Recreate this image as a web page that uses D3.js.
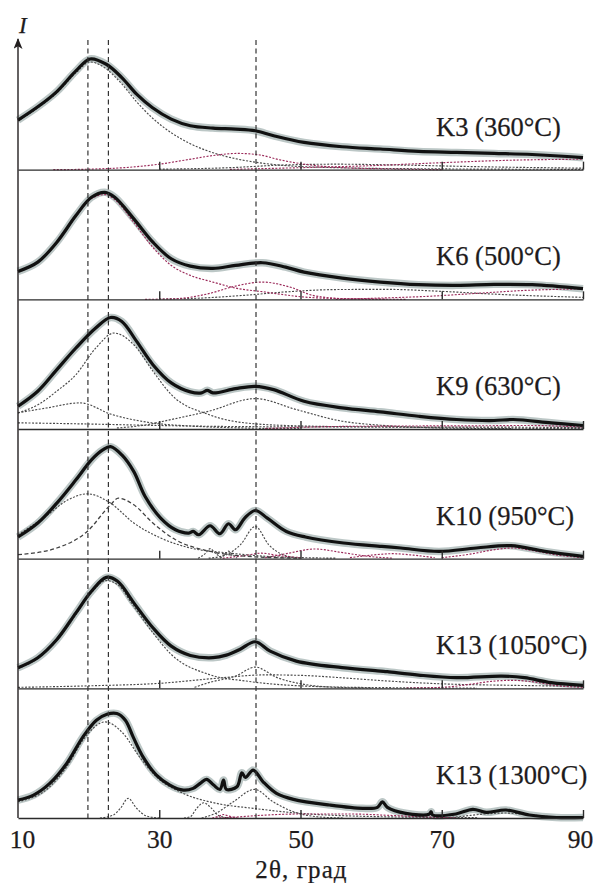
<!DOCTYPE html>
<html>
<head>
<meta charset="utf-8">
<script src="https://cdn.jsdelivr.net/npm/d3@7"></script>
<style>
  body { margin: 0; background: #fff; }
  svg { display: block; }
  text { font-family: "Liberation Serif", "Times New Roman", serif; fill: #1e1b1c; stroke: #1e1b1c; stroke-width: 0.25; }
</style>
</head>
<body>
<svg id="vis" width="596" height="883"></svg>
<script>
// ---- data: [2theta, intensity (a.u.)] ----
var panelNames = ["K3 (360°C)", "K6 (500°C)", "K9 (630°C)", "K10 (950°C)", "K13 (1050°C)", "K13 (1300°C)"];
var xTicks = [10, 30, 50, 70, 90];
var guideLines = [19.9, 22.8, 43.7];

var k3Fit = [[10,49.7],[12.8,63],[15.5,78.3],[18.2,99],[20.2,111],[22.5,105.7],[24.7,92.3],[26.8,75.7],[29,62.3],[31.7,50.7],[34.4,44],[37.6,41.7],[40.8,40.7],[43.6,39],[46.2,34],[50.5,27.3],[55.9,23],[61.3,20.7],[66.7,18.3],[72.1,17.3],[77.4,16.3],[82.8,15.2],[90,12]];
var k3Gray = [
  [[10,49],[12.8,62],[15.5,77],[18.2,97],[20.2,108],[22.5,101],[24.7,86],[26.8,68],[29,52],[31.7,37],[34.4,26],[37.6,17],[40.8,11],[43.6,7.5],[48,4],[55,2],[65,1],[90,0.3]],
  [[30,0.5],[40,2],[47,4.5],[55,5.5],[65,4.5],[75,3],[90,1.5]]
];
var k3Red = [
  [[15,0],[20,0.5],[25,2],[30,5.5],[34,10],[38,14.5],[41,16.3],[44,15],[47,10],[51,5],[56,2],[62,0.8],[70,0]],
  [[40,0.3],[50,2],[60,4],[70,7],[80,9.5],[90,10.5]]
];

var k6Fit = [[10,28],[12.8,37.3],[15.5,57.3],[18.2,84],[20.4,102.3],[22.3,107.3],[23.7,102.3],[26.4,80.7],[29.1,57.3],[31.7,40.7],[34.4,33.3],[37.6,31],[40.8,34],[44.6,36.7],[47.9,32.3],[50.5,27.3],[55.9,21.3],[61.3,17.3],[66.7,14.7],[72.1,14],[77.4,15],[82.8,14.7],[90,10.7]];
var k6Gray = [
  [[30,0.3],[35,1],[42,4],[48,7.5],[55,9.8],[62,10],[70,8],[78,5],[90,2]]
];
var k6Red = [
  [[10,28],[12.8,37],[15.5,57],[18.2,83],[20.4,101],[22.3,105],[23.7,100],[26.4,77],[29.1,52],[31.7,34],[34.4,24],[37.6,17.3],[40.8,11.3],[45,7.3],[50.5,2.3],[56,0.7],[65,0]],
  [[28,0],[32.5,0.7],[37,5.7],[40.8,13.3],[44.6,17.3],[48.5,12.3],[51.7,4],[56,0.7],[62,0]],
  [[55,0],[60,1],[68,3],[75,6],[82,9],[90,10.5]]
];

var k9Fit = [[10,22.8],[12.8,37.8],[15.5,59.5],[18.2,81.2],[21,101.2],[23.1,111.8],[24.7,107.8],[26.8,87.8],[29.1,64.5],[31.7,46.2],[34.4,37.2],[36,36.2],[36.8,38.8],[37.6,36.2],[40.8,40.5],[43.6,42.8],[46.2,39.5],[50.5,27.8],[55.9,21.2],[61.3,17.2],[66.7,12.8],[72.1,9.5],[77.4,8.5],[80.1,9.5],[85.5,6.2],[90,3.5]];
var k9Gray = [
  [[10,16.2],[13,25],[15.5,38],[18.2,54.5],[21,81],[23.6,96.2],[26.4,84.5],[29.1,58],[31.7,34.5],[37,14.5],[42.3,6],[50.5,3],[61.3,2],[75,1],[90,0.5]],
  [[10,16.2],[14,21],[18.8,26.2],[23.3,14.5],[29.1,6],[34.4,3],[42,1],[50,0.3]],
  [[24,1],[28,4],[31.7,9.5],[37,17.8],[43.6,30.5],[49.4,19.5],[55.9,7.8],[61.3,3.8],[70,1],[80,0.3]],
  [[10,6.2],[20,5],[30,3.5],[40,2.5],[55,2],[70,2],[90,1.5]]
];
var k9Red = [
  [[45,0.5],[55,2.5],[65,3],[75,3.2],[82,3.5],[90,2]]
];

var k10Fit = [[10,21.7],[12.8,35.7],[15.5,55.7],[18.2,79],[20.4,99],[22,109],[23.1,112.3],[24.7,104],[26.4,87.3],[28,62.3],[30.2,40.7],[32.3,29],[34.2,25.7],[34.8,27.3],[35.6,24],[37.2,33],[38.6,25],[39.8,35],[40.8,29],[42.1,40.7],[43.6,48.3],[45.3,40.7],[48,27.3],[50.7,21.7],[56.1,15.7],[61.5,12.3],[64.2,10.7],[69.6,7.3],[74.9,10.7],[79.8,13],[84.6,7.3],[90,2.3]];
var k10Gray = [
  [[10,24],[13.9,42.3],[17.1,59],[19.8,65],[23.1,55.7],[26.4,35.7],[30.2,20.7],[34.4,10.7],[39.8,5.7],[46,2],[55,0.5]],
  [[37,0.5],[39.5,4],[41.5,14],[43.6,32.3],[45.5,14],[47.5,4],[50,0.5]],
  [[35.5,0.5],[36.5,5],[37.2,10],[38,5],[39,0.5]],
  [[38.6,0.5],[39.3,4],[39.8,7.5],[40.4,4],[41,0.5]]
];
var k10Dash = [
  [[10,4],[15.5,10.7],[19.8,27.3],[23.1,54],[24.2,60.7],[26.4,54],[29.1,35.7],[32.3,19],[37.2,7.3],[42.5,2.3],[50,0.5]]
];
var k10Red = [
  [[39,0.5],[42,3],[44.5,5.5],[47,3],[50,1]],
  [[45,1],[48,5],[52,9.7],[56,6],[60,2],[63,0.5]],
  [[57,1],[60,3.5],[63,5],[66,3.5],[69,1]],
  [[70,1],[74,4.5],[77,8.5],[80,10.7],[83,8],[86,4],[90,1]]
];

var k13aFit = [[10,20.7],[12.8,30.7],[15.5,49],[18.2,75.7],[20.4,97.3],[22.5,111.3],[24.1,107.3],[26.4,85.7],[29.1,60.7],[31.7,42.3],[34.4,33],[37.6,30.7],[39.5,33.3],[41.4,39],[43.6,46.7],[45.7,37.3],[49.4,27.3],[55.9,20.7],[61.3,17.3],[62.3,16.7],[66.7,13.3],[72.1,10.7],[78.5,12.3],[81.7,10.7],[85.5,5.7],[90,3]];
var k13aGray = [
  [[10,20],[12.8,30],[15.5,48],[18.2,74],[20.4,96],[22.5,108],[24.1,104],[26.4,82],[29.1,55.7],[31.7,34],[37,14],[42.3,7.3],[50.5,2.3],[60,0.8],[75,0.3]],
  [[35,1],[37,5.7],[40.8,12.3],[43.6,21.3],[46.7,10.7],[50.5,4],[55,1],[60,0.3]],
  [[10,1],[20,2.5],[30,5],[38,10],[45,13.5],[50,13],[56,10.5],[62,7.5],[70,4.5],[80,3],[90,2]]
];
var k13aRed = [
  [[65,0.3],[70,1],[74,4],[77,7],[80,8],[83,6.5],[86,3],[90,1]]
];

var k13bFit = [[10,18],[12.2,23],[14.5,34.7],[16.9,54.7],[19.2,81.3],[21.1,98],[22.6,104],[24,104.7],[25.2,98],[26.3,81.3],[27.7,61.3],[29.6,43],[31.5,33],[33.4,28],[34.8,29.7],[35.8,34.7],[36.7,38.7],[37.7,33],[38.6,28.7],[39.1,38],[39.5,28.7],[41,31.3],[41.7,45.3],[42.2,40.7],[43.3,48],[44.7,36.3],[46.6,24.7],[49,18.7],[54.1,13],[58.8,9.7],[60.9,10.7],[61.6,16.3],[62.3,10.7],[64.9,4.7],[68.2,3.7],[68.5,6.3],[68.7,3],[72,4],[74.4,8.7],[76.3,5.7],[79.1,8],[82.4,3],[86.2,0.5],[90,0.5]];
var k13bGray = [
  [[10,16.3],[14.5,31.3],[16.9,51.3],[19.2,78],[22.3,96.3],[24.9,84.7],[27.2,61.3],[29.6,41.3],[33.4,24.7],[38.1,14.7],[43.3,9.7],[49.9,4.7],[60,1.5],[75,0.3]],
  [[21.6,0],[23.5,3],[24.5,9.7],[25.6,19.7],[26.8,9.7],[28.2,2],[30,0]],
  [[33.5,0],[34.4,1.3],[35.3,9.7],[36.3,15.3],[37.4,9.7],[38.5,2],[40,0]],
  [[36,0],[38,4.7],[40.5,16.3],[43.5,28.7],[46.1,16.3],[49,6.3],[52.3,1.3],[56,0]],
  [[70,0],[72,1],[76,4],[79,5],[82,3.5],[86,1],[90,0.3]]
];
var k13bRed = [
  [[37.5,0],[38.5,2],[39.1,3.5],[39.8,2],[41,0]],
  [[38,0],[40,0.5],[44,2.5],[50,4],[57,4],[63,2.5],[68,1],[72,0]]
];

// ---- layout ----
var svg = d3.select("#vis");
var margin = {top: 40, right: 13, bottom: 65, left: 18};
var width = 596 - margin.left - margin.right;
var height = 883 - margin.top - margin.bottom;
var nPanels = panelNames.length;
var panelH = height / nPanels;

var x = d3.scaleLinear().domain([10, 90]).range([margin.left, margin.left + width]);

var panels = [
  {fit: k3Fit,   gray: k3Gray,   red: k3Red,   dash: []},
  {fit: k6Fit,   gray: k6Gray,   red: k6Red,   dash: []},
  {fit: k9Fit,   gray: k9Gray,   red: k9Red,   dash: []},
  {fit: k10Fit,  gray: k10Gray,  red: k10Red,  dash: k10Dash},
  {fit: k13aFit, gray: k13aGray, red: k13aRed, dash: []},
  {fit: k13bFit, gray: k13bGray, red: k13bRed, dash: []}
];

var styles = {
  gray: {stroke: "#4a4a4a", width: 1.15, dash: "2,1.5"},
  red:  {stroke: "#9b2a5a", width: 1.15, dash: "2,1.5"},
  dash: {stroke: "#404040", width: 1.3, dash: "4,2.5"}
};

var defs = svg.append("defs");
defs.append("marker")
    .attr("id", "arrow")
    .attr("viewBox", "0 0 12 10")
    .attr("refX", 11).attr("refY", 5)
    .attr("markerWidth", 11).attr("markerHeight", 9)
    .attr("markerUnits", "userSpaceOnUse")
    .attr("orient", "auto")
    .append("path")
    .attr("d", "M0,0 L12,5 L0,10 L3,5 Z")
    .attr("fill", "#231f20");

panels.forEach(function(p, i) {
    var base = margin.top + (i + 1) * panelH;
    var y = d3.scaleLinear().domain([0, 130]).range([base, base - panelH]);
    var line = d3.line()
        .x(function(d) { return x(d[0]); })
        .y(function(d) { return y(d[1]); })
        .curve(d3.curveMonotoneX);
    var smooth = d3.line()
        .x(function(d) { return x(d[0]); })
        .y(function(d) { return y(d[1]); })
        .curve(d3.curveCatmullRom.alpha(0.5));

    var g = svg.append("g").attr("class", "panel");

    // experimental scatter band
    g.append("path")
        .attr("d", smooth(p.fit))
        .attr("fill", "none")
        .attr("stroke", "#bcc7c6")
        .attr("stroke-width", 7.5)
        .attr("stroke-linejoin", "round");

    ["gray", "red", "dash"].forEach(function(kind) {
        var st = styles[kind];
        g.selectAll("path." + kind)
            .data(p[kind])
            .enter()
            .append("path")
            .attr("class", kind)
            .attr("d", line)
            .attr("fill", "none")
            .attr("stroke", st.stroke)
            .attr("stroke-width", st.width)
            .attr("stroke-dasharray", st.dash);
    });

    g.append("path")
        .attr("d", smooth(p.fit))
        .attr("fill", "none")
        .attr("stroke", "#111")
        .attr("stroke-width", 3.2)
        .attr("stroke-linejoin", "round");

    // baseline with small upward ticks
    var ax = g.append("g")
        .attr("transform", "translate(0," + base + ")")
        .call(d3.axisTop(x).tickValues(xTicks.slice(1)).tickSize(8).tickSizeOuter(0).tickFormat(""));
    ax.selectAll("path, line").attr("stroke", "#2b2b2b").attr("stroke-width", 1.4);

    g.append("text")
        .attr("x", x(69.2))
        .attr("y", base - 34)
        .attr("font-size", 26.5)
        .text(panelNames[i]);
});

// vertical guide lines
svg.append("g").selectAll("line")
    .data(guideLines)
    .enter()
    .append("line")
    .attr("x1", function(d) { return x(d); })
    .attr("x2", function(d) { return x(d); })
    .attr("y1", margin.top)
    .attr("y2", margin.top + height)
    .attr("stroke", "#333")
    .attr("stroke-width", 1.2)
    .attr("stroke-dasharray", "5,3.5");

// y axis with arrow
svg.append("line")
    .attr("x1", margin.left).attr("x2", margin.left)
    .attr("y1", margin.top + height).attr("y2", margin.top - 1)
    .attr("stroke", "#231f20")
    .attr("stroke-width", 1.4)
    .attr("marker-end", "url(#arrow)");

svg.append("text")
    .attr("x", 19)
    .attr("y", 33)
    .attr("font-size", 23)
    .attr("font-style", "italic")
    .text("I");

// bottom tick labels
var bottomAxis = svg.append("g")
    .attr("transform", "translate(0," + (margin.top + height) + ")")
    .call(d3.axisBottom(x).tickValues(xTicks).tickSize(0).tickPadding(12));
bottomAxis.select(".domain").remove();
bottomAxis.selectAll("text")
    .attr("font-family", "Liberation Serif, serif")
    .attr("font-size", 25.5)
    .attr("fill", "#1e1b1c")
    .attr("dx", function(d) { return d === 10 ? 4 : (d === 90 ? -3 : 0); });

svg.append("text")
    .attr("x", x(50) + 1)
    .attr("y", 878)
    .attr("text-anchor", "middle")
    .attr("font-size", 25)
    .attr("letter-spacing", 1.1)
    .text("2θ, град");
</script>
</body>
</html>
